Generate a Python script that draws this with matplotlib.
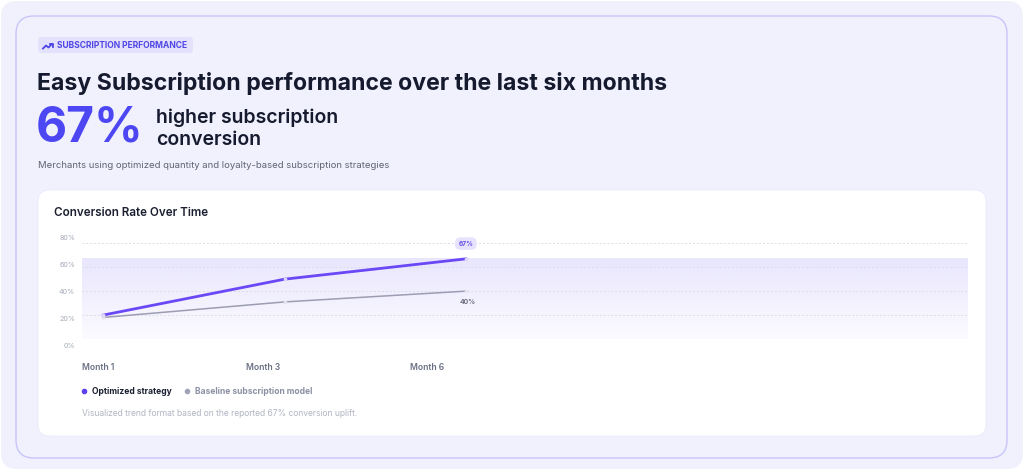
import matplotlib.pyplot as plt
import numpy as np
from matplotlib.patches import FancyBboxPatch
from matplotlib.lines import Line2D

plt.rcParams['font.family'] = ['Inter', 'DejaVu Sans']

# data
months = ["Month 1", "Month 3", "Month 6"]
optimized = [20, 50, 67]
baseline = [18, 31, 40]
y_ticks = [0, 20, 40, 60, 80]
y_labels = ["0%", "20%", "40%", "60%", "80%"]

W, H = 1024, 474
fig = plt.figure(figsize=(W / 100, H / 100), dpi=100, facecolor="white")

# background layer in pixel coords
bg = fig.add_axes([0, 0, 1, 1])
bg.set_xlim(0, W)
bg.set_ylim(H, 0)
bg.axis("off")

bg.add_patch(FancyBboxPatch((1, 1), W - 2, H - 6, boxstyle="round,pad=0,rounding_size=16",
                            fc="#f1f0fd", ec="none"))
bg.add_patch(FancyBboxPatch((16, 16), 991, 442, boxstyle="round,pad=0,rounding_size=18",
                            fc="#f1f0fd", ec="#c8c5fa", lw=1))
bg.add_patch(FancyBboxPatch((38, 190), 948, 246, boxstyle="round,pad=0,rounding_size=12",
                            fc="white", ec="#eceafb", lw=0.6))

# tag pill
bg.add_patch(FancyBboxPatch((38, 37), 155, 16, boxstyle="round,pad=0,rounding_size=4",
                            fc="#e3e1fc", ec="none"))
bg.add_line(Line2D([43, 46, 48.5, 52], [48.5, 45.5, 47.5, 44], color="#4f46e5", lw=1.3))
bg.add_line(Line2D([49.5, 52.5, 52.5], [44, 44, 47], color="#4f46e5", lw=1.3))
bg.text(57, 45.3, "SUBSCRIPTION PERFORMANCE", fontsize=6.1, fontweight="bold",
        color="#4f46e5", va="center", ha="left")

bg.text(37, 83, "Easy Subscription performance over the last six months", fontsize=16.6,
        fontweight="bold", color="#151a2e", va="center", ha="left")
bg.text(36, 128, "67%", fontsize=34.5, fontweight="bold", color="#4d47f3",
        va="center", ha="left")
bg.text(156, 117.5, "higher subscription", fontsize=14, fontweight="semibold",
        color="#151a2e", va="center", ha="left")
bg.text(156, 140, "conversion", fontsize=14, fontweight="semibold",
        color="#151a2e", va="center", ha="left")
bg.text(38, 166, "Merchants using optimized quantity and loyalty-based subscription strategies",
        fontsize=6.85, color="#5f6473", va="center", ha="left")

bg.text(54, 213, "Conversion Rate Over Time", fontsize=8.4, fontweight="semibold",
        color="#1b1f30", va="center", ha="left")

# y tick labels sit on their own spacing in the reference
for i, lab in enumerate(y_labels):
    bg.text(75, 346 - i * 27.1, lab, fontsize=5.2, color="#a7abba", va="center", ha="right")

# month labels
for i, lab in enumerate(months):
    bg.text(82 + i * 164, 368, lab, fontsize=6.2, fontweight="semibold",
            color="#6b7185", va="center", ha="left")

# legend
bg.scatter([83.5], [391], s=9, color="#5b3ff0", zorder=3)
bg.text(92, 391, "Optimized strategy", fontsize=6.1, fontweight="bold", color="#1b1f30",
        va="center", ha="left")
bg.scatter([186.5], [391], s=9, color="#a0a2b6", zorder=3)
bg.text(195, 391, "Baseline subscription model", fontsize=6.1, fontweight="bold",
        color="#8c90a3", va="center", ha="left")

bg.text(82, 413, "Visualized trend format based on the reported 67% conversion uplift.",
        fontsize=6.15, color="#b1b5c3", va="center", ha="left")

# chart axes
ax = fig.add_axes([82 / W, 1 - 339 / H, 886 / W, (339 - 243.3) / H])
ax.set_facecolor("none")
x = np.arange(len(months))
ax.set_xlim(-0.117, 4.77)
ax.set_ylim(0, 80)
for s in ax.spines.values():
    s.set_visible(False)
ax.set_xticks([])
ax.set_yticks([])

for t in y_ticks:
    ax.axhline(t, color="#dcdbe8", lw=0.7, ls=(0, (2, 2)), zorder=1)

grad = np.zeros((100, 2, 4))
grad[..., 0] = 124 / 255
grad[..., 1] = 108 / 255
grad[..., 2] = 246 / 255
grad[..., 3] = np.linspace(0.03, 0.17, 100)[:, None]
ax.imshow(grad, extent=[-0.117, 4.77, 0, max(optimized)], origin="lower",
          aspect="auto", zorder=0.5)

ax.plot(x, baseline, color="#9c9db2", lw=1.1, zorder=3, clip_on=False)
ax.plot(x, optimized, color="#6a48f5", lw=2, zorder=4, clip_on=False)
ax.scatter(x, baseline, s=3, color="#e4e3ee", zorder=5, clip_on=False)
ax.scatter(x, optimized, s=3, color="#ddd6fe", zorder=5, clip_on=False)

ax.annotate(f"{optimized[-1]}%", (x[-1], optimized[-1]), xytext=(0, 11),
            textcoords="offset points", ha="center", va="center", fontsize=4.8,
            fontweight="bold", color="#6b55e8", annotation_clip=False,
            bbox=dict(boxstyle="round,pad=0.5,rounding_size=0.8", fc="#e7e3fd", ec="none"))
ax.annotate(f"{baseline[-1]}%", (x[-1], baseline[-1]), xytext=(1, -7.5),
            textcoords="offset points", ha="center", va="center", fontsize=4.9,
            fontweight="bold", color="#6d7182", annotation_clip=False)

fig.savefig("out.png", dpi=100, facecolor="white")
